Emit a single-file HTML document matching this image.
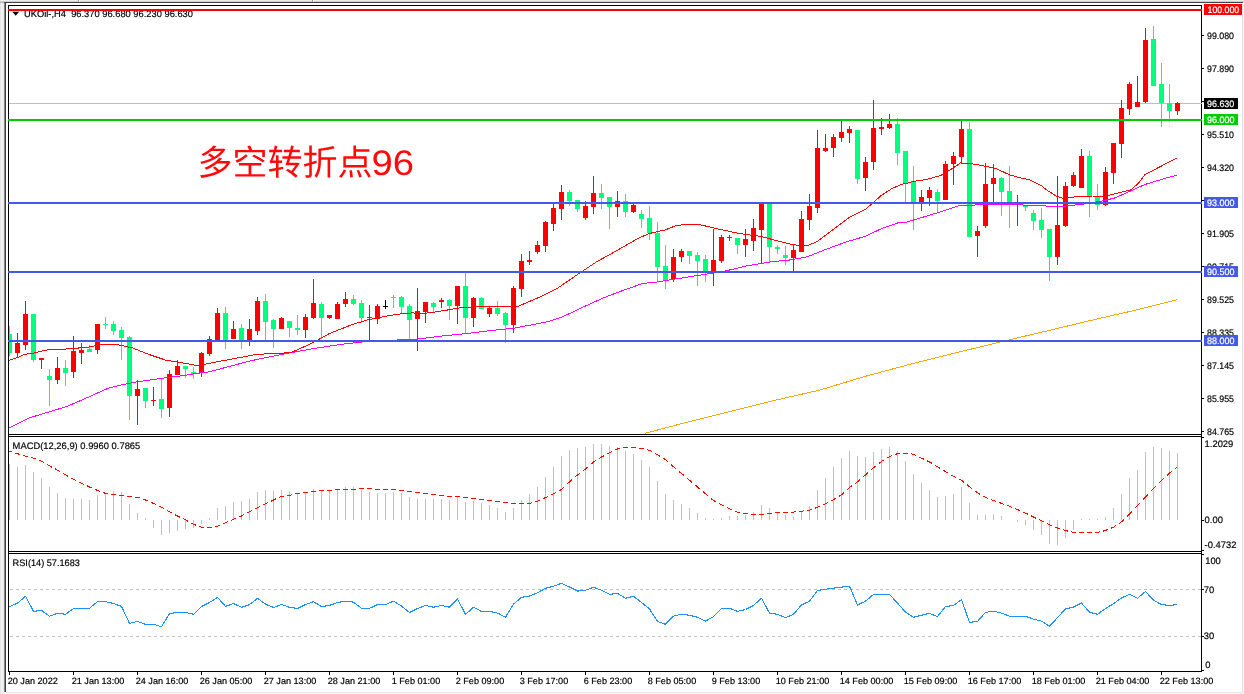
<!DOCTYPE html>
<html><head><meta charset="utf-8"><title>UKOil H4</title>
<style>html,body{margin:0;padding:0;background:#f7f7f7;}body{width:1244px;height:694px;overflow:hidden;position:relative;font-family:"Liberation Sans", "Noto Sans CJK SC", sans-serif;}</style>
</head><body>
<svg width="1244" height="694" viewBox="0 0 1244 694" shape-rendering="crispEdges" style="position:absolute;left:0;top:0;will-change:transform;font-family:'Liberation Sans', 'Noto Sans CJK SC', sans-serif">
<rect x="0" y="0" width="1244" height="694" fill="#f7f7f7"/>
<rect x="0" y="0" width="1244" height="1" fill="#ececec"/>
<rect x="0" y="1" width="1244" height="1" fill="#d0d0d0"/>
<rect x="0" y="2" width="1" height="692" fill="#e2e2e2"/>
<rect x="1" y="3" width="1" height="691" fill="#f8f8f8"/>
<rect x="2" y="3" width="2" height="691" fill="#ebebeb"/>
<rect x="0" y="2" width="4" height="1" fill="#b4b4b4"/>
<rect x="4" y="2" width="1239" height="1" fill="#454545"/>
<rect x="4" y="3" width="1" height="689" fill="#8a8a8a"/>
<rect x="5" y="3" width="1" height="689" fill="#3e3e3e"/>
<rect x="6" y="3" width="1236" height="689" fill="#ffffff"/>
<rect x="1242" y="3" width="1" height="690" fill="#e4e4e4"/>
<rect x="6" y="692" width="1237" height="1" fill="#e4e4e4"/>
<rect x="78" y="0" width="1" height="2" fill="#9a9a9a"/>
<rect x="79" y="0" width="1" height="2" fill="#ffffff"/>
<rect x="312" y="0" width="1" height="2" fill="#9a9a9a"/>
<rect x="313" y="0" width="1" height="2" fill="#ffffff"/>
<defs><clipPath id="cm"><rect x="9" y="6" width="1192" height="428"/></clipPath><clipPath id="cm2"><rect x="9" y="6" width="1193" height="428"/></clipPath><clipPath id="cd"><rect x="9" y="437" width="1192" height="114"/></clipPath><clipPath id="cr"><rect x="9" y="554" width="1192" height="117"/></clipPath></defs>
<g clip-path="url(#cm)">
<rect x="9" y="103" width="1193" height="1" fill="#c0c0c0"/>
<rect x="9" y="326" width="1" height="30" fill="#00ff7f"/>
<rect x="7" y="334" width="5" height="19" fill="#00ff7f"/>
<rect x="17" y="333" width="1" height="24" fill="#ff0000"/>
<rect x="15" y="343" width="5" height="10" fill="#ff0000"/>
<rect x="25" y="301" width="1" height="49" fill="#ff0000"/>
<rect x="23" y="314" width="5" height="31" fill="#ff0000"/>
<rect x="33" y="314" width="1" height="48" fill="#00ff7f"/>
<rect x="31" y="314" width="5" height="46" fill="#00ff7f"/>
<rect x="41" y="358" width="1" height="11" fill="#ff0000"/>
<rect x="39" y="358" width="5" height="2" fill="#ff0000"/>
<rect x="49" y="369" width="1" height="37" fill="#00ff7f"/>
<rect x="47" y="376" width="5" height="4" fill="#00ff7f"/>
<rect x="57" y="357" width="1" height="27" fill="#ff0000"/>
<rect x="55" y="368" width="5" height="12" fill="#ff0000"/>
<rect x="65" y="360" width="1" height="26" fill="#00ff7f"/>
<rect x="63" y="368" width="5" height="5" fill="#00ff7f"/>
<rect x="73" y="336" width="1" height="42" fill="#ff0000"/>
<rect x="71" y="351" width="5" height="21" fill="#ff0000"/>
<rect x="81" y="343" width="1" height="21" fill="#ff0000"/>
<rect x="79" y="350" width="5" height="3" fill="#ff0000"/>
<rect x="89" y="345" width="1" height="7" fill="#00ff7f"/>
<rect x="87" y="349" width="5" height="3" fill="#00ff7f"/>
<rect x="97" y="324" width="1" height="30" fill="#ff0000"/>
<rect x="95" y="324" width="5" height="26" fill="#ff0000"/>
<rect x="105" y="317" width="1" height="12" fill="#00ff7f"/>
<rect x="103" y="324" width="5" height="1" fill="#00ff7f"/>
<rect x="113" y="321" width="1" height="14" fill="#00ff7f"/>
<rect x="111" y="324" width="5" height="7" fill="#00ff7f"/>
<rect x="121" y="327" width="1" height="33" fill="#00ff7f"/>
<rect x="119" y="330" width="5" height="8" fill="#00ff7f"/>
<rect x="129" y="336" width="1" height="84" fill="#00ff7f"/>
<rect x="127" y="337" width="5" height="59" fill="#00ff7f"/>
<rect x="137" y="380" width="1" height="45" fill="#ff0000"/>
<rect x="135" y="389" width="5" height="7" fill="#ff0000"/>
<rect x="145" y="388" width="1" height="20" fill="#00ff7f"/>
<rect x="143" y="388" width="5" height="13" fill="#00ff7f"/>
<rect x="153" y="387" width="1" height="19" fill="#ff0000"/>
<rect x="151" y="400" width="5" height="1" fill="#ff0000"/>
<rect x="161" y="379" width="1" height="39" fill="#00ff7f"/>
<rect x="159" y="399" width="5" height="10" fill="#00ff7f"/>
<rect x="169" y="370" width="1" height="47" fill="#ff0000"/>
<rect x="167" y="374" width="5" height="34" fill="#ff0000"/>
<rect x="177" y="360" width="1" height="15" fill="#ff0000"/>
<rect x="175" y="366" width="5" height="9" fill="#ff0000"/>
<rect x="185" y="366" width="1" height="12" fill="#00ff7f"/>
<rect x="183" y="366" width="5" height="3" fill="#00ff7f"/>
<rect x="193" y="367" width="1" height="12" fill="#00ff7f"/>
<rect x="191" y="372" width="5" height="2" fill="#00ff7f"/>
<rect x="201" y="352" width="1" height="25" fill="#ff0000"/>
<rect x="199" y="353" width="5" height="20" fill="#ff0000"/>
<rect x="209" y="336" width="1" height="20" fill="#ff0000"/>
<rect x="207" y="339" width="5" height="15" fill="#ff0000"/>
<rect x="217" y="308" width="1" height="33" fill="#ff0000"/>
<rect x="215" y="313" width="5" height="28" fill="#ff0000"/>
<rect x="225" y="307" width="1" height="42" fill="#00ff7f"/>
<rect x="223" y="313" width="5" height="28" fill="#00ff7f"/>
<rect x="233" y="321" width="1" height="18" fill="#ff0000"/>
<rect x="231" y="329" width="5" height="10" fill="#ff0000"/>
<rect x="241" y="324" width="1" height="25" fill="#00ff7f"/>
<rect x="239" y="328" width="5" height="13" fill="#00ff7f"/>
<rect x="249" y="319" width="1" height="27" fill="#ff0000"/>
<rect x="247" y="329" width="5" height="12" fill="#ff0000"/>
<rect x="257" y="297" width="1" height="38" fill="#ff0000"/>
<rect x="255" y="301" width="5" height="30" fill="#ff0000"/>
<rect x="265" y="294" width="1" height="46" fill="#00ff7f"/>
<rect x="263" y="301" width="5" height="21" fill="#00ff7f"/>
<rect x="273" y="319" width="1" height="29" fill="#00ff7f"/>
<rect x="271" y="320" width="5" height="9" fill="#00ff7f"/>
<rect x="281" y="317" width="1" height="12" fill="#ff0000"/>
<rect x="279" y="318" width="5" height="11" fill="#ff0000"/>
<rect x="289" y="321" width="1" height="16" fill="#00ff7f"/>
<rect x="287" y="321" width="5" height="7" fill="#00ff7f"/>
<rect x="297" y="315" width="1" height="20" fill="#00ff7f"/>
<rect x="295" y="328" width="5" height="2" fill="#00ff7f"/>
<rect x="305" y="314" width="1" height="24" fill="#ff0000"/>
<rect x="303" y="317" width="5" height="13" fill="#ff0000"/>
<rect x="313" y="279" width="1" height="40" fill="#ff0000"/>
<rect x="311" y="303" width="5" height="15" fill="#ff0000"/>
<rect x="321" y="302" width="1" height="37" fill="#00ff7f"/>
<rect x="319" y="304" width="5" height="14" fill="#00ff7f"/>
<rect x="329" y="315" width="1" height="4" fill="#ff0000"/>
<rect x="327" y="315" width="5" height="3" fill="#ff0000"/>
<rect x="337" y="302" width="1" height="17" fill="#ff0000"/>
<rect x="335" y="304" width="5" height="15" fill="#ff0000"/>
<rect x="345" y="292" width="1" height="15" fill="#ff0000"/>
<rect x="343" y="299" width="5" height="5" fill="#ff0000"/>
<rect x="353" y="295" width="1" height="10" fill="#00ff7f"/>
<rect x="351" y="299" width="5" height="5" fill="#00ff7f"/>
<rect x="361" y="300" width="1" height="23" fill="#00ff7f"/>
<rect x="359" y="303" width="5" height="15" fill="#00ff7f"/>
<rect x="369" y="305" width="1" height="36" fill="#ff0000"/>
<rect x="367" y="317" width="5" height="1" fill="#ff0000"/>
<rect x="377" y="304" width="1" height="20" fill="#ff0000"/>
<rect x="375" y="306" width="5" height="13" fill="#ff0000"/>
<rect x="385" y="300" width="1" height="9" fill="#000000"/>
<rect x="383" y="306" width="5" height="1" fill="#000000"/>
<rect x="393" y="295" width="1" height="13" fill="#00ff7f"/>
<rect x="391" y="297" width="5" height="1" fill="#00ff7f"/>
<rect x="401" y="296" width="1" height="18" fill="#00ff7f"/>
<rect x="399" y="297" width="5" height="10" fill="#00ff7f"/>
<rect x="409" y="304" width="1" height="35" fill="#00ff7f"/>
<rect x="407" y="306" width="5" height="14" fill="#00ff7f"/>
<rect x="417" y="288" width="1" height="63" fill="#ff0000"/>
<rect x="415" y="311" width="5" height="8" fill="#ff0000"/>
<rect x="425" y="302" width="1" height="21" fill="#ff0000"/>
<rect x="423" y="302" width="5" height="10" fill="#ff0000"/>
<rect x="433" y="302" width="1" height="10" fill="#00ff7f"/>
<rect x="431" y="303" width="5" height="4" fill="#00ff7f"/>
<rect x="441" y="298" width="1" height="10" fill="#ff0000"/>
<rect x="439" y="300" width="5" height="2" fill="#ff0000"/>
<rect x="449" y="299" width="1" height="21" fill="#00ff7f"/>
<rect x="447" y="300" width="5" height="6" fill="#00ff7f"/>
<rect x="457" y="286" width="1" height="38" fill="#ff0000"/>
<rect x="455" y="286" width="5" height="20" fill="#ff0000"/>
<rect x="465" y="273" width="1" height="61" fill="#00ff7f"/>
<rect x="463" y="286" width="5" height="32" fill="#00ff7f"/>
<rect x="473" y="297" width="1" height="30" fill="#ff0000"/>
<rect x="471" y="298" width="5" height="20" fill="#ff0000"/>
<rect x="481" y="297" width="1" height="12" fill="#00ff7f"/>
<rect x="479" y="298" width="5" height="11" fill="#00ff7f"/>
<rect x="489" y="307" width="1" height="10" fill="#ff0000"/>
<rect x="487" y="308" width="5" height="6" fill="#ff0000"/>
<rect x="497" y="301" width="1" height="15" fill="#00ff7f"/>
<rect x="495" y="308" width="5" height="6" fill="#00ff7f"/>
<rect x="505" y="312" width="1" height="31" fill="#00ff7f"/>
<rect x="503" y="313" width="5" height="12" fill="#00ff7f"/>
<rect x="513" y="286" width="1" height="47" fill="#ff0000"/>
<rect x="511" y="288" width="5" height="37" fill="#ff0000"/>
<rect x="521" y="254" width="1" height="43" fill="#ff0000"/>
<rect x="519" y="261" width="5" height="28" fill="#ff0000"/>
<rect x="529" y="251" width="1" height="14" fill="#ff0000"/>
<rect x="527" y="260" width="5" height="2" fill="#ff0000"/>
<rect x="537" y="241" width="1" height="13" fill="#ff0000"/>
<rect x="535" y="245" width="5" height="7" fill="#ff0000"/>
<rect x="545" y="221" width="1" height="31" fill="#ff0000"/>
<rect x="543" y="222" width="5" height="24" fill="#ff0000"/>
<rect x="553" y="204" width="1" height="27" fill="#ff0000"/>
<rect x="551" y="208" width="5" height="16" fill="#ff0000"/>
<rect x="561" y="185" width="1" height="35" fill="#ff0000"/>
<rect x="559" y="192" width="5" height="17" fill="#ff0000"/>
<rect x="569" y="190" width="1" height="16" fill="#00ff7f"/>
<rect x="567" y="192" width="5" height="9" fill="#00ff7f"/>
<rect x="577" y="200" width="1" height="12" fill="#00ff7f"/>
<rect x="575" y="200" width="5" height="9" fill="#00ff7f"/>
<rect x="585" y="201" width="1" height="19" fill="#ff0000"/>
<rect x="583" y="206" width="5" height="12" fill="#ff0000"/>
<rect x="593" y="176" width="1" height="38" fill="#ff0000"/>
<rect x="591" y="193" width="5" height="14" fill="#ff0000"/>
<rect x="601" y="184" width="1" height="25" fill="#00ff7f"/>
<rect x="599" y="193" width="5" height="5" fill="#00ff7f"/>
<rect x="609" y="197" width="1" height="32" fill="#00ff7f"/>
<rect x="607" y="197" width="5" height="10" fill="#00ff7f"/>
<rect x="617" y="191" width="1" height="26" fill="#ff0000"/>
<rect x="615" y="201" width="5" height="6" fill="#ff0000"/>
<rect x="625" y="194" width="1" height="23" fill="#00ff7f"/>
<rect x="623" y="201" width="5" height="11" fill="#00ff7f"/>
<rect x="633" y="204" width="1" height="9" fill="#ff0000"/>
<rect x="631" y="205" width="5" height="7" fill="#ff0000"/>
<rect x="641" y="210" width="1" height="18" fill="#00ff7f"/>
<rect x="639" y="214" width="5" height="5" fill="#00ff7f"/>
<rect x="649" y="206" width="1" height="34" fill="#00ff7f"/>
<rect x="647" y="218" width="5" height="15" fill="#00ff7f"/>
<rect x="657" y="222" width="1" height="60" fill="#00ff7f"/>
<rect x="655" y="233" width="5" height="34" fill="#00ff7f"/>
<rect x="665" y="245" width="1" height="44" fill="#00ff7f"/>
<rect x="663" y="266" width="5" height="14" fill="#00ff7f"/>
<rect x="673" y="249" width="1" height="33" fill="#ff0000"/>
<rect x="671" y="257" width="5" height="22" fill="#ff0000"/>
<rect x="681" y="249" width="1" height="13" fill="#ff0000"/>
<rect x="679" y="251" width="5" height="6" fill="#ff0000"/>
<rect x="689" y="251" width="1" height="13" fill="#00ff7f"/>
<rect x="687" y="251" width="5" height="5" fill="#00ff7f"/>
<rect x="697" y="252" width="1" height="34" fill="#00ff7f"/>
<rect x="695" y="255" width="5" height="6" fill="#00ff7f"/>
<rect x="705" y="255" width="1" height="27" fill="#00ff7f"/>
<rect x="703" y="259" width="5" height="13" fill="#00ff7f"/>
<rect x="713" y="229" width="1" height="57" fill="#ff0000"/>
<rect x="711" y="260" width="5" height="13" fill="#ff0000"/>
<rect x="721" y="235" width="1" height="28" fill="#ff0000"/>
<rect x="719" y="237" width="5" height="24" fill="#ff0000"/>
<rect x="729" y="235" width="1" height="6" fill="#ff0000"/>
<rect x="727" y="237" width="5" height="1" fill="#ff0000"/>
<rect x="737" y="238" width="1" height="16" fill="#00ff7f"/>
<rect x="735" y="238" width="5" height="7" fill="#00ff7f"/>
<rect x="745" y="229" width="1" height="28" fill="#ff0000"/>
<rect x="743" y="239" width="5" height="6" fill="#ff0000"/>
<rect x="753" y="219" width="1" height="32" fill="#ff0000"/>
<rect x="751" y="228" width="5" height="13" fill="#ff0000"/>
<rect x="761" y="203" width="1" height="60" fill="#ff0000"/>
<rect x="759" y="203" width="5" height="27" fill="#ff0000"/>
<rect x="769" y="203" width="1" height="59" fill="#00ff7f"/>
<rect x="767" y="203" width="5" height="44" fill="#00ff7f"/>
<rect x="777" y="245" width="1" height="9" fill="#00ff7f"/>
<rect x="775" y="247" width="5" height="2" fill="#00ff7f"/>
<rect x="785" y="246" width="1" height="19" fill="#00ff7f"/>
<rect x="783" y="255" width="5" height="3" fill="#00ff7f"/>
<rect x="793" y="245" width="1" height="26" fill="#ff0000"/>
<rect x="791" y="250" width="5" height="8" fill="#ff0000"/>
<rect x="801" y="211" width="1" height="41" fill="#ff0000"/>
<rect x="799" y="219" width="5" height="33" fill="#ff0000"/>
<rect x="809" y="194" width="1" height="36" fill="#ff0000"/>
<rect x="807" y="206" width="5" height="14" fill="#ff0000"/>
<rect x="817" y="130" width="1" height="83" fill="#ff0000"/>
<rect x="815" y="148" width="5" height="60" fill="#ff0000"/>
<rect x="825" y="134" width="1" height="18" fill="#ff0000"/>
<rect x="823" y="148" width="5" height="3" fill="#ff0000"/>
<rect x="833" y="134" width="1" height="23" fill="#ff0000"/>
<rect x="831" y="137" width="5" height="11" fill="#ff0000"/>
<rect x="841" y="121" width="1" height="21" fill="#ff0000"/>
<rect x="839" y="132" width="5" height="6" fill="#ff0000"/>
<rect x="849" y="126" width="1" height="17" fill="#ff0000"/>
<rect x="847" y="129" width="5" height="4" fill="#ff0000"/>
<rect x="857" y="130" width="1" height="54" fill="#00ff7f"/>
<rect x="855" y="130" width="5" height="49" fill="#00ff7f"/>
<rect x="865" y="157" width="1" height="34" fill="#ff0000"/>
<rect x="863" y="162" width="5" height="16" fill="#ff0000"/>
<rect x="873" y="100" width="1" height="70" fill="#ff0000"/>
<rect x="871" y="128" width="5" height="34" fill="#ff0000"/>
<rect x="881" y="118" width="1" height="17" fill="#ff0000"/>
<rect x="879" y="127" width="5" height="2" fill="#ff0000"/>
<rect x="889" y="114" width="1" height="15" fill="#ff0000"/>
<rect x="887" y="124" width="5" height="4" fill="#ff0000"/>
<rect x="897" y="118" width="1" height="47" fill="#00ff7f"/>
<rect x="895" y="124" width="5" height="29" fill="#00ff7f"/>
<rect x="905" y="151" width="1" height="51" fill="#00ff7f"/>
<rect x="903" y="151" width="5" height="32" fill="#00ff7f"/>
<rect x="913" y="166" width="1" height="64" fill="#00ff7f"/>
<rect x="911" y="182" width="5" height="21" fill="#00ff7f"/>
<rect x="921" y="190" width="1" height="21" fill="#ff0000"/>
<rect x="919" y="197" width="5" height="5" fill="#ff0000"/>
<rect x="929" y="187" width="1" height="19" fill="#ff0000"/>
<rect x="927" y="190" width="5" height="8" fill="#ff0000"/>
<rect x="937" y="189" width="1" height="23" fill="#00ff7f"/>
<rect x="935" y="192" width="5" height="9" fill="#00ff7f"/>
<rect x="945" y="161" width="1" height="39" fill="#ff0000"/>
<rect x="943" y="164" width="5" height="36" fill="#ff0000"/>
<rect x="953" y="152" width="1" height="33" fill="#ff0000"/>
<rect x="951" y="156" width="5" height="8" fill="#ff0000"/>
<rect x="961" y="121" width="1" height="43" fill="#ff0000"/>
<rect x="959" y="129" width="5" height="28" fill="#ff0000"/>
<rect x="969" y="122" width="1" height="115" fill="#00ff7f"/>
<rect x="967" y="129" width="5" height="108" fill="#00ff7f"/>
<rect x="977" y="226" width="1" height="31" fill="#ff0000"/>
<rect x="975" y="231" width="5" height="5" fill="#ff0000"/>
<rect x="985" y="163" width="1" height="65" fill="#ff0000"/>
<rect x="983" y="184" width="5" height="42" fill="#ff0000"/>
<rect x="993" y="164" width="1" height="38" fill="#ff0000"/>
<rect x="991" y="178" width="5" height="6" fill="#ff0000"/>
<rect x="1001" y="177" width="1" height="39" fill="#00ff7f"/>
<rect x="999" y="178" width="5" height="14" fill="#00ff7f"/>
<rect x="1009" y="166" width="1" height="62" fill="#00ff7f"/>
<rect x="1007" y="191" width="5" height="14" fill="#00ff7f"/>
<rect x="1017" y="195" width="1" height="31" fill="#ff0000"/>
<rect x="1015" y="204" width="5" height="1" fill="#ff0000"/>
<rect x="1025" y="205" width="1" height="6" fill="#00ff7f"/>
<rect x="1023" y="206" width="5" height="1" fill="#00ff7f"/>
<rect x="1033" y="210" width="1" height="20" fill="#00ff7f"/>
<rect x="1031" y="213" width="5" height="8" fill="#00ff7f"/>
<rect x="1041" y="208" width="1" height="30" fill="#00ff7f"/>
<rect x="1039" y="220" width="5" height="10" fill="#00ff7f"/>
<rect x="1049" y="229" width="1" height="52" fill="#00ff7f"/>
<rect x="1047" y="229" width="5" height="28" fill="#00ff7f"/>
<rect x="1057" y="176" width="1" height="89" fill="#ff0000"/>
<rect x="1055" y="225" width="5" height="32" fill="#ff0000"/>
<rect x="1065" y="182" width="1" height="45" fill="#ff0000"/>
<rect x="1063" y="186" width="5" height="40" fill="#ff0000"/>
<rect x="1073" y="172" width="1" height="15" fill="#ff0000"/>
<rect x="1071" y="175" width="5" height="11" fill="#ff0000"/>
<rect x="1081" y="149" width="1" height="39" fill="#ff0000"/>
<rect x="1079" y="156" width="5" height="32" fill="#ff0000"/>
<rect x="1089" y="151" width="1" height="66" fill="#00ff7f"/>
<rect x="1087" y="156" width="5" height="41" fill="#00ff7f"/>
<rect x="1097" y="184" width="1" height="26" fill="#00ff7f"/>
<rect x="1095" y="197" width="5" height="8" fill="#00ff7f"/>
<rect x="1105" y="167" width="1" height="39" fill="#ff0000"/>
<rect x="1103" y="172" width="5" height="33" fill="#ff0000"/>
<rect x="1113" y="143" width="1" height="41" fill="#ff0000"/>
<rect x="1111" y="143" width="5" height="30" fill="#ff0000"/>
<rect x="1121" y="100" width="1" height="58" fill="#ff0000"/>
<rect x="1119" y="108" width="5" height="36" fill="#ff0000"/>
<rect x="1129" y="82" width="1" height="33" fill="#ff0000"/>
<rect x="1127" y="84" width="5" height="25" fill="#ff0000"/>
<rect x="1137" y="76" width="1" height="31" fill="#ff0000"/>
<rect x="1135" y="102" width="5" height="5" fill="#ff0000"/>
<rect x="1145" y="28" width="1" height="75" fill="#ff0000"/>
<rect x="1143" y="40" width="5" height="62" fill="#ff0000"/>
<rect x="1153" y="26" width="1" height="60" fill="#00ff7f"/>
<rect x="1151" y="39" width="5" height="47" fill="#00ff7f"/>
<rect x="1161" y="63" width="1" height="64" fill="#00ff7f"/>
<rect x="1159" y="84" width="5" height="19" fill="#00ff7f"/>
<rect x="1169" y="84" width="1" height="38" fill="#00ff7f"/>
<rect x="1167" y="103" width="5" height="8" fill="#00ff7f"/>
<rect x="1177" y="102" width="1" height="13" fill="#ff0000"/>
<rect x="1175" y="103" width="5" height="8" fill="#ff0000"/>
<polyline points="644.5,433.4 685.0,422.8 730.0,411.6 775.0,400.3 820.0,390.0 865.0,376.4 910.0,364.3 955.0,353.0 1007.0,340.4 1045.0,331.4 1090.0,320.6 1135.0,310.3 1177.0,299.8" fill="none" stroke="#ffa500" stroke-width="1" shape-rendering="crispEdges" />
<polyline points="9.0,428.2 28.2,418.2 48.4,412.1 66.5,406.6 88.7,397.0 108.9,387.9 123.0,384.5 137.2,381.8 161.4,378.4 181.6,375.8 201.7,372.7 206.1,372.5 220.2,368.9 250.5,360.8 290.8,352.7 313.0,348.7 341.3,344.3 365.5,341.6 393.7,340.0 397.0,340.0 418.2,339.0 442.5,336.0 466.7,333.5 492.9,330.3 513.1,328.3 531.3,324.9 547.4,321.8 561.5,317.2 573.6,311.7 578.4,309.3 602.6,298.2 622.8,290.5 643.0,283.4 657.1,282.0 675.3,279.0 697.5,275.5 713.6,272.9 727.1,270.6 746.2,266.0 770.5,261.9 790.6,259.9 806.8,256.9 824.9,249.8 845.1,242.3 865.3,236.3 881.5,228.6 897.6,223.0 906.1,222.2 920.2,218.0 940.4,211.9 960.5,205.3 980.7,204.9 1021.1,204.9 1041.3,205.9 1046.0,206.0 1060.1,206.6 1084.4,204.0 1102.5,201.0 1114.6,198.0 1130.8,190.9 1144.9,184.5 1159.0,180.2 1169.1,177.2 1176.8,175.4" fill="none" stroke="#ff00ff" stroke-width="1" shape-rendering="crispEdges" />
<polyline points="9.0,360.4 18.1,357.4 23.9,354.4 34.0,353.0 44.9,350.3 54.4,349.1 64.1,349.1 68.5,348.9 88.7,347.1 102.9,344.1 117.0,344.5 133.1,348.1 149.3,354.6 165.4,360.0 181.6,362.7 195.7,365.3 203.8,364.7 204.0,364.5 220.2,361.2 256.5,354.4 290.8,352.7 313.0,342.7 329.2,333.6 353.4,324.1 369.5,319.4 393.7,314.8 398.1,314.2 412.0,312.9 422.1,313.6 432.0,312.5 451.9,309.3 462.6,307.3 482.8,306.7 501.0,306.7 518.1,306.3 529.2,301.6 539.3,297.2 542.1,296.1 556.2,289.1 578.4,273.9 596.5,261.8 616.7,250.7 636.9,239.0 649.0,233.6 665.2,229.9 675.3,225.9 687.4,224.1 697.5,224.1 707.5,226.5 717.6,228.9 724.0,230.2 740.2,233.7 760.4,236.3 780.5,241.7 792.7,244.8 806.8,245.8 816.9,241.7 829.0,232.7 849.2,217.5 865.3,209.4 873.4,202.4 881.5,195.3 891.5,188.9 901.6,184.2 906.1,183.7 912.1,181.6 926.2,179.6 940.4,175.6 952.5,168.5 960.5,162.9 970.6,163.5 984.8,166.1 996.9,168.9 1009.0,174.6 1019.1,177.6 1029.2,179.6 1041.3,185.7 1046.0,189.5 1056.1,196.0 1064.2,198.6 1080.3,196.0 1092.4,196.0 1104.5,196.4 1114.6,193.9 1130.8,189.9 1138.9,182.8 1144.9,174.8 1157.0,168.3 1167.1,163.1 1176.8,158.2" fill="none" stroke="#ff0000" stroke-width="1" shape-rendering="crispEdges" />
</g>
<g clip-path="url(#cd)">
<rect x="9" y="464" width="1" height="56" fill="#c0c0c0"/>
<rect x="17" y="467" width="1" height="53" fill="#c0c0c0"/>
<rect x="25" y="465" width="1" height="55" fill="#c0c0c0"/>
<rect x="33" y="472" width="1" height="48" fill="#c0c0c0"/>
<rect x="41" y="478" width="1" height="42" fill="#c0c0c0"/>
<rect x="49" y="487" width="1" height="33" fill="#c0c0c0"/>
<rect x="57" y="493" width="1" height="27" fill="#c0c0c0"/>
<rect x="65" y="498" width="1" height="22" fill="#c0c0c0"/>
<rect x="73" y="499" width="1" height="21" fill="#c0c0c0"/>
<rect x="81" y="499" width="1" height="21" fill="#c0c0c0"/>
<rect x="89" y="500" width="1" height="20" fill="#c0c0c0"/>
<rect x="97" y="495" width="1" height="25" fill="#c0c0c0"/>
<rect x="105" y="493" width="1" height="27" fill="#c0c0c0"/>
<rect x="113" y="491" width="1" height="29" fill="#c0c0c0"/>
<rect x="121" y="492" width="1" height="28" fill="#c0c0c0"/>
<rect x="129" y="504" width="1" height="16" fill="#c0c0c0"/>
<rect x="137" y="513" width="1" height="7" fill="#c0c0c0"/>
<rect x="145" y="518" width="1" height="2" fill="#c0c0c0"/>
<rect x="153" y="520" width="1" height="8" fill="#c0c0c0"/>
<rect x="161" y="520" width="1" height="15" fill="#c0c0c0"/>
<rect x="169" y="520" width="1" height="13" fill="#c0c0c0"/>
<rect x="177" y="520" width="1" height="11" fill="#c0c0c0"/>
<rect x="185" y="520" width="1" height="9" fill="#c0c0c0"/>
<rect x="193" y="520" width="1" height="8" fill="#c0c0c0"/>
<rect x="201" y="520" width="1" height="4" fill="#c0c0c0"/>
<rect x="209" y="518" width="1" height="2" fill="#c0c0c0"/>
<rect x="217" y="508" width="1" height="12" fill="#c0c0c0"/>
<rect x="225" y="506" width="1" height="14" fill="#c0c0c0"/>
<rect x="233" y="502" width="1" height="18" fill="#c0c0c0"/>
<rect x="241" y="501" width="1" height="19" fill="#c0c0c0"/>
<rect x="249" y="499" width="1" height="21" fill="#c0c0c0"/>
<rect x="257" y="492" width="1" height="28" fill="#c0c0c0"/>
<rect x="265" y="490" width="1" height="30" fill="#c0c0c0"/>
<rect x="273" y="491" width="1" height="29" fill="#c0c0c0"/>
<rect x="281" y="490" width="1" height="30" fill="#c0c0c0"/>
<rect x="289" y="491" width="1" height="29" fill="#c0c0c0"/>
<rect x="297" y="494" width="1" height="26" fill="#c0c0c0"/>
<rect x="305" y="493" width="1" height="27" fill="#c0c0c0"/>
<rect x="313" y="489" width="1" height="31" fill="#c0c0c0"/>
<rect x="321" y="491" width="1" height="29" fill="#c0c0c0"/>
<rect x="329" y="491" width="1" height="29" fill="#c0c0c0"/>
<rect x="337" y="490" width="1" height="30" fill="#c0c0c0"/>
<rect x="345" y="487" width="1" height="33" fill="#c0c0c0"/>
<rect x="353" y="487" width="1" height="33" fill="#c0c0c0"/>
<rect x="361" y="490" width="1" height="30" fill="#c0c0c0"/>
<rect x="369" y="492" width="1" height="28" fill="#c0c0c0"/>
<rect x="377" y="493" width="1" height="27" fill="#c0c0c0"/>
<rect x="385" y="493" width="1" height="27" fill="#c0c0c0"/>
<rect x="393" y="492" width="1" height="28" fill="#c0c0c0"/>
<rect x="401" y="493" width="1" height="27" fill="#c0c0c0"/>
<rect x="409" y="497" width="1" height="23" fill="#c0c0c0"/>
<rect x="417" y="499" width="1" height="21" fill="#c0c0c0"/>
<rect x="425" y="499" width="1" height="21" fill="#c0c0c0"/>
<rect x="433" y="499" width="1" height="21" fill="#c0c0c0"/>
<rect x="441" y="499" width="1" height="21" fill="#c0c0c0"/>
<rect x="449" y="500" width="1" height="20" fill="#c0c0c0"/>
<rect x="457" y="497" width="1" height="23" fill="#c0c0c0"/>
<rect x="465" y="502" width="1" height="18" fill="#c0c0c0"/>
<rect x="473" y="501" width="1" height="19" fill="#c0c0c0"/>
<rect x="481" y="503" width="1" height="17" fill="#c0c0c0"/>
<rect x="489" y="505" width="1" height="15" fill="#c0c0c0"/>
<rect x="497" y="508" width="1" height="12" fill="#c0c0c0"/>
<rect x="505" y="512" width="1" height="8" fill="#c0c0c0"/>
<rect x="513" y="508" width="1" height="12" fill="#c0c0c0"/>
<rect x="521" y="500" width="1" height="20" fill="#c0c0c0"/>
<rect x="529" y="494" width="1" height="26" fill="#c0c0c0"/>
<rect x="537" y="487" width="1" height="33" fill="#c0c0c0"/>
<rect x="545" y="477" width="1" height="43" fill="#c0c0c0"/>
<rect x="553" y="467" width="1" height="53" fill="#c0c0c0"/>
<rect x="561" y="456" width="1" height="64" fill="#c0c0c0"/>
<rect x="569" y="450" width="1" height="70" fill="#c0c0c0"/>
<rect x="577" y="448" width="1" height="72" fill="#c0c0c0"/>
<rect x="585" y="447" width="1" height="73" fill="#c0c0c0"/>
<rect x="593" y="444" width="1" height="76" fill="#c0c0c0"/>
<rect x="601" y="444" width="1" height="76" fill="#c0c0c0"/>
<rect x="609" y="446" width="1" height="74" fill="#c0c0c0"/>
<rect x="617" y="447" width="1" height="73" fill="#c0c0c0"/>
<rect x="625" y="451" width="1" height="69" fill="#c0c0c0"/>
<rect x="633" y="454" width="1" height="66" fill="#c0c0c0"/>
<rect x="641" y="460" width="1" height="60" fill="#c0c0c0"/>
<rect x="649" y="467" width="1" height="53" fill="#c0c0c0"/>
<rect x="657" y="481" width="1" height="39" fill="#c0c0c0"/>
<rect x="665" y="494" width="1" height="26" fill="#c0c0c0"/>
<rect x="673" y="500" width="1" height="20" fill="#c0c0c0"/>
<rect x="681" y="504" width="1" height="16" fill="#c0c0c0"/>
<rect x="689" y="508" width="1" height="12" fill="#c0c0c0"/>
<rect x="697" y="513" width="1" height="7" fill="#c0c0c0"/>
<rect x="705" y="518" width="1" height="2" fill="#c0c0c0"/>
<rect x="713" y="519" width="1" height="1" fill="#c0c0c0"/>
<rect x="721" y="518" width="1" height="2" fill="#c0c0c0"/>
<rect x="729" y="516" width="1" height="4" fill="#c0c0c0"/>
<rect x="737" y="516" width="1" height="4" fill="#c0c0c0"/>
<rect x="745" y="515" width="1" height="5" fill="#c0c0c0"/>
<rect x="753" y="512" width="1" height="8" fill="#c0c0c0"/>
<rect x="761" y="505" width="1" height="15" fill="#c0c0c0"/>
<rect x="769" y="508" width="1" height="12" fill="#c0c0c0"/>
<rect x="777" y="512" width="1" height="8" fill="#c0c0c0"/>
<rect x="785" y="515" width="1" height="5" fill="#c0c0c0"/>
<rect x="793" y="517" width="1" height="3" fill="#c0c0c0"/>
<rect x="801" y="512" width="1" height="8" fill="#c0c0c0"/>
<rect x="809" y="506" width="1" height="14" fill="#c0c0c0"/>
<rect x="817" y="490" width="1" height="30" fill="#c0c0c0"/>
<rect x="825" y="478" width="1" height="42" fill="#c0c0c0"/>
<rect x="833" y="467" width="1" height="53" fill="#c0c0c0"/>
<rect x="841" y="458" width="1" height="62" fill="#c0c0c0"/>
<rect x="849" y="451" width="1" height="69" fill="#c0c0c0"/>
<rect x="857" y="456" width="1" height="64" fill="#c0c0c0"/>
<rect x="865" y="457" width="1" height="63" fill="#c0c0c0"/>
<rect x="873" y="452" width="1" height="68" fill="#c0c0c0"/>
<rect x="881" y="449" width="1" height="71" fill="#c0c0c0"/>
<rect x="889" y="447" width="1" height="73" fill="#c0c0c0"/>
<rect x="897" y="451" width="1" height="69" fill="#c0c0c0"/>
<rect x="905" y="461" width="1" height="59" fill="#c0c0c0"/>
<rect x="913" y="474" width="1" height="46" fill="#c0c0c0"/>
<rect x="921" y="483" width="1" height="37" fill="#c0c0c0"/>
<rect x="929" y="490" width="1" height="30" fill="#c0c0c0"/>
<rect x="937" y="497" width="1" height="23" fill="#c0c0c0"/>
<rect x="945" y="496" width="1" height="24" fill="#c0c0c0"/>
<rect x="953" y="494" width="1" height="26" fill="#c0c0c0"/>
<rect x="961" y="487" width="1" height="33" fill="#c0c0c0"/>
<rect x="969" y="503" width="1" height="17" fill="#c0c0c0"/>
<rect x="977" y="515" width="1" height="5" fill="#c0c0c0"/>
<rect x="985" y="515" width="1" height="5" fill="#c0c0c0"/>
<rect x="993" y="514" width="1" height="6" fill="#c0c0c0"/>
<rect x="1001" y="516" width="1" height="4" fill="#c0c0c0"/>
<rect x="1017" y="520" width="1" height="2" fill="#c0c0c0"/>
<rect x="1025" y="520" width="1" height="5" fill="#c0c0c0"/>
<rect x="1033" y="520" width="1" height="10" fill="#c0c0c0"/>
<rect x="1041" y="520" width="1" height="15" fill="#c0c0c0"/>
<rect x="1049" y="520" width="1" height="24" fill="#c0c0c0"/>
<rect x="1057" y="520" width="1" height="25" fill="#c0c0c0"/>
<rect x="1065" y="520" width="1" height="18" fill="#c0c0c0"/>
<rect x="1073" y="520" width="1" height="10" fill="#c0c0c0"/>
<rect x="1081" y="519" width="1" height="1" fill="#c0c0c0"/>
<rect x="1089" y="519" width="1" height="1" fill="#c0c0c0"/>
<rect x="1097" y="519" width="1" height="1" fill="#c0c0c0"/>
<rect x="1105" y="517" width="1" height="3" fill="#c0c0c0"/>
<rect x="1113" y="508" width="1" height="12" fill="#c0c0c0"/>
<rect x="1121" y="494" width="1" height="26" fill="#c0c0c0"/>
<rect x="1129" y="478" width="1" height="42" fill="#c0c0c0"/>
<rect x="1137" y="470" width="1" height="50" fill="#c0c0c0"/>
<rect x="1145" y="452" width="1" height="68" fill="#c0c0c0"/>
<rect x="1153" y="447" width="1" height="73" fill="#c0c0c0"/>
<rect x="1161" y="448" width="1" height="72" fill="#c0c0c0"/>
<rect x="1169" y="451" width="1" height="69" fill="#c0c0c0"/>
<rect x="1177" y="453" width="1" height="67" fill="#c0c0c0"/>
<polyline points="7.0,450.6 9.5,451.3 12.0,452.1" fill="none" stroke="#ff0000" stroke-width="1.05" shape-rendering="crispEdges" />
<polyline points="15.0,453.0 17.5,453.7 20.0,454.5" fill="none" stroke="#ff0000" stroke-width="1.05" shape-rendering="crispEdges" />
<polyline points="23.0,455.4 25.5,456.1 28.0,456.7" fill="none" stroke="#ff0000" stroke-width="1.05" shape-rendering="crispEdges" />
<polyline points="31.0,457.5 33.5,458.1 36.0,459.1" fill="none" stroke="#ff0000" stroke-width="1.05" shape-rendering="crispEdges" />
<polyline points="39.0,460.3 41.5,461.3 44.0,462.7" fill="none" stroke="#ff0000" stroke-width="1.05" shape-rendering="crispEdges" />
<polyline points="47.0,464.4 49.5,465.8 52.0,467.2" fill="none" stroke="#ff0000" stroke-width="1.05" shape-rendering="crispEdges" />
<polyline points="55.0,468.8 57.5,470.2 60.0,471.7" fill="none" stroke="#ff0000" stroke-width="1.05" shape-rendering="crispEdges" />
<polyline points="63.0,473.4 65.5,474.9 68.0,476.3" fill="none" stroke="#ff0000" stroke-width="1.05" shape-rendering="crispEdges" />
<polyline points="71.0,477.9 73.5,479.3 76.0,480.5" fill="none" stroke="#ff0000" stroke-width="1.05" shape-rendering="crispEdges" />
<polyline points="79.0,482.0 81.5,483.2 84.0,484.4" fill="none" stroke="#ff0000" stroke-width="1.05" shape-rendering="crispEdges" />
<polyline points="87.0,485.8 89.5,487.0 92.0,488.1" fill="none" stroke="#ff0000" stroke-width="1.05" shape-rendering="crispEdges" />
<polyline points="95.0,489.4 97.5,490.5 100.0,491.4" fill="none" stroke="#ff0000" stroke-width="1.05" shape-rendering="crispEdges" />
<polyline points="103.0,492.5 105.5,493.4 108.0,493.7" fill="none" stroke="#ff0000" stroke-width="1.05" shape-rendering="crispEdges" />
<polyline points="111.0,494.1 113.5,494.4 116.0,494.7" fill="none" stroke="#ff0000" stroke-width="1.05" shape-rendering="crispEdges" />
<polyline points="119.0,495.0 121.5,495.3 124.0,495.6" fill="none" stroke="#ff0000" stroke-width="1.05" shape-rendering="crispEdges" />
<polyline points="127.0,496.0 129.5,496.3 132.0,496.6" fill="none" stroke="#ff0000" stroke-width="1.05" shape-rendering="crispEdges" />
<polyline points="135.0,497.0 137.5,497.3 140.0,498.1" fill="none" stroke="#ff0000" stroke-width="1.05" shape-rendering="crispEdges" />
<polyline points="143.0,499.1 145.5,500.0 148.0,501.1" fill="none" stroke="#ff0000" stroke-width="1.05" shape-rendering="crispEdges" />
<polyline points="151.0,502.4 153.5,503.4 156.0,504.6" fill="none" stroke="#ff0000" stroke-width="1.05" shape-rendering="crispEdges" />
<polyline points="159.0,506.1 161.5,507.3 164.0,508.7" fill="none" stroke="#ff0000" stroke-width="1.05" shape-rendering="crispEdges" />
<polyline points="167.0,510.4 169.5,511.7 172.0,513.1" fill="none" stroke="#ff0000" stroke-width="1.05" shape-rendering="crispEdges" />
<polyline points="175.0,514.7 177.5,516.0 180.0,517.2" fill="none" stroke="#ff0000" stroke-width="1.05" shape-rendering="crispEdges" />
<polyline points="183.0,518.6 185.5,519.9 188.0,521.2" fill="none" stroke="#ff0000" stroke-width="1.05" shape-rendering="crispEdges" />
<polyline points="191.0,522.9 193.5,524.3 196.0,525.2" fill="none" stroke="#ff0000" stroke-width="1.05" shape-rendering="crispEdges" />
<polyline points="199.0,526.3 201.5,527.2 204.0,527.3" fill="none" stroke="#ff0000" stroke-width="1.05" shape-rendering="crispEdges" />
<polyline points="207.0,527.5 209.5,527.6 212.0,527.2" fill="none" stroke="#ff0000" stroke-width="1.05" shape-rendering="crispEdges" />
<polyline points="215.0,526.6 217.5,526.2 220.0,525.1" fill="none" stroke="#ff0000" stroke-width="1.05" shape-rendering="crispEdges" />
<polyline points="223.0,523.8 225.5,522.8 228.0,521.7" fill="none" stroke="#ff0000" stroke-width="1.05" shape-rendering="crispEdges" />
<polyline points="231.0,520.4 233.5,519.3 236.0,518.2" fill="none" stroke="#ff0000" stroke-width="1.05" shape-rendering="crispEdges" />
<polyline points="239.0,517.0 241.5,516.0 244.0,514.6" fill="none" stroke="#ff0000" stroke-width="1.05" shape-rendering="crispEdges" />
<polyline points="247.0,512.9 249.5,511.6 252.0,510.4" fill="none" stroke="#ff0000" stroke-width="1.05" shape-rendering="crispEdges" />
<polyline points="255.0,509.0 257.5,507.9 260.0,506.6" fill="none" stroke="#ff0000" stroke-width="1.05" shape-rendering="crispEdges" />
<polyline points="263.0,505.1 265.5,503.8 268.0,502.6" fill="none" stroke="#ff0000" stroke-width="1.05" shape-rendering="crispEdges" />
<polyline points="271.0,501.2 273.5,500.0 276.0,498.8" fill="none" stroke="#ff0000" stroke-width="1.05" shape-rendering="crispEdges" />
<polyline points="279.0,497.4 281.5,496.3 284.0,496.0" fill="none" stroke="#ff0000" stroke-width="1.05" shape-rendering="crispEdges" />
<polyline points="287.0,495.6 289.5,495.3 292.0,494.7" fill="none" stroke="#ff0000" stroke-width="1.05" shape-rendering="crispEdges" />
<polyline points="295.0,494.0 297.5,493.4 300.0,493.1" fill="none" stroke="#ff0000" stroke-width="1.05" shape-rendering="crispEdges" />
<polyline points="303.0,492.7 305.5,492.4 308.0,492.1" fill="none" stroke="#ff0000" stroke-width="1.05" shape-rendering="crispEdges" />
<polyline points="311.0,491.6 313.5,491.3 316.0,491.0" fill="none" stroke="#ff0000" stroke-width="1.05" shape-rendering="crispEdges" />
<polyline points="319.0,490.7 321.5,490.5 324.0,490.4" fill="none" stroke="#ff0000" stroke-width="1.05" shape-rendering="crispEdges" />
<polyline points="327.0,490.4 329.5,490.3 332.0,490.1" fill="none" stroke="#ff0000" stroke-width="1.05" shape-rendering="crispEdges" />
<polyline points="335.0,489.8 337.5,489.5 340.0,489.5" fill="none" stroke="#ff0000" stroke-width="1.05" shape-rendering="crispEdges" />
<polyline points="343.0,489.4 345.5,489.3 348.0,489.3" fill="none" stroke="#ff0000" stroke-width="1.05" shape-rendering="crispEdges" />
<polyline points="351.0,489.3 353.5,489.3 356.0,489.1" fill="none" stroke="#ff0000" stroke-width="1.05" shape-rendering="crispEdges" />
<polyline points="359.0,488.8 361.5,488.6 364.0,488.6" fill="none" stroke="#ff0000" stroke-width="1.05" shape-rendering="crispEdges" />
<polyline points="367.0,488.6 369.5,488.6 372.0,488.8" fill="none" stroke="#ff0000" stroke-width="1.05" shape-rendering="crispEdges" />
<polyline points="375.0,489.1 377.5,489.3 380.0,489.4" fill="none" stroke="#ff0000" stroke-width="1.05" shape-rendering="crispEdges" />
<polyline points="383.0,489.5 385.5,489.5 388.0,489.5" fill="none" stroke="#ff0000" stroke-width="1.05" shape-rendering="crispEdges" />
<polyline points="391.0,489.5 393.5,489.5 396.0,489.8" fill="none" stroke="#ff0000" stroke-width="1.05" shape-rendering="crispEdges" />
<polyline points="399.0,490.1 401.5,490.3 404.0,490.7" fill="none" stroke="#ff0000" stroke-width="1.05" shape-rendering="crispEdges" />
<polyline points="407.0,491.1 409.5,491.5 412.0,491.8" fill="none" stroke="#ff0000" stroke-width="1.05" shape-rendering="crispEdges" />
<polyline points="415.0,492.1 417.5,492.4 420.0,492.7" fill="none" stroke="#ff0000" stroke-width="1.05" shape-rendering="crispEdges" />
<polyline points="423.0,493.1 425.5,493.4 428.0,493.7" fill="none" stroke="#ff0000" stroke-width="1.05" shape-rendering="crispEdges" />
<polyline points="431.0,494.1 433.5,494.4 436.0,494.7" fill="none" stroke="#ff0000" stroke-width="1.05" shape-rendering="crispEdges" />
<polyline points="439.0,495.0 441.5,495.3 444.0,495.6" fill="none" stroke="#ff0000" stroke-width="1.05" shape-rendering="crispEdges" />
<polyline points="447.0,496.0 449.5,496.3 452.0,496.4" fill="none" stroke="#ff0000" stroke-width="1.05" shape-rendering="crispEdges" />
<polyline points="455.0,496.6 457.5,496.7 460.0,497.0" fill="none" stroke="#ff0000" stroke-width="1.05" shape-rendering="crispEdges" />
<polyline points="463.0,497.3 465.5,497.6 468.0,498.0" fill="none" stroke="#ff0000" stroke-width="1.05" shape-rendering="crispEdges" />
<polyline points="471.0,498.3 473.5,498.6 476.0,498.9" fill="none" stroke="#ff0000" stroke-width="1.05" shape-rendering="crispEdges" />
<polyline points="479.0,499.3 481.5,499.6 484.0,499.9" fill="none" stroke="#ff0000" stroke-width="1.05" shape-rendering="crispEdges" />
<polyline points="487.0,500.2 489.5,500.5 492.0,500.8" fill="none" stroke="#ff0000" stroke-width="1.05" shape-rendering="crispEdges" />
<polyline points="495.0,501.2 497.5,501.5 500.0,501.8" fill="none" stroke="#ff0000" stroke-width="1.05" shape-rendering="crispEdges" />
<polyline points="503.0,502.2 505.5,502.5 508.0,502.8" fill="none" stroke="#ff0000" stroke-width="1.05" shape-rendering="crispEdges" />
<polyline points="511.0,503.1 513.5,503.4 516.0,503.4" fill="none" stroke="#ff0000" stroke-width="1.05" shape-rendering="crispEdges" />
<polyline points="519.0,503.4 521.5,503.4 524.0,503.4" fill="none" stroke="#ff0000" stroke-width="1.05" shape-rendering="crispEdges" />
<polyline points="527.0,503.4 529.5,503.4 532.0,502.7" fill="none" stroke="#ff0000" stroke-width="1.05" shape-rendering="crispEdges" />
<polyline points="535.0,501.8 537.5,501.1 540.0,500.0" fill="none" stroke="#ff0000" stroke-width="1.05" shape-rendering="crispEdges" />
<polyline points="543.0,498.7 545.5,497.6 548.0,496.4" fill="none" stroke="#ff0000" stroke-width="1.05" shape-rendering="crispEdges" />
<polyline points="551.0,495.0 553.5,493.8 556.0,492.5" fill="none" stroke="#ff0000" stroke-width="1.05" shape-rendering="crispEdges" />
<polyline points="559.0,490.9 561.5,489.5 564.0,487.1" fill="none" stroke="#ff0000" stroke-width="1.05" shape-rendering="crispEdges" />
<polyline points="567.0,484.2 569.5,481.8 572.0,479.6" fill="none" stroke="#ff0000" stroke-width="1.05" shape-rendering="crispEdges" />
<polyline points="575.0,477.0 577.5,474.9 580.0,473.1" fill="none" stroke="#ff0000" stroke-width="1.05" shape-rendering="crispEdges" />
<polyline points="583.0,470.9 585.5,469.1 588.0,466.8" fill="none" stroke="#ff0000" stroke-width="1.05" shape-rendering="crispEdges" />
<polyline points="591.0,464.2 593.5,461.9 596.0,460.4" fill="none" stroke="#ff0000" stroke-width="1.05" shape-rendering="crispEdges" />
<polyline points="599.0,458.6 601.5,457.1 604.0,455.7" fill="none" stroke="#ff0000" stroke-width="1.05" shape-rendering="crispEdges" />
<polyline points="607.0,454.0 609.5,452.7 612.0,451.5" fill="none" stroke="#ff0000" stroke-width="1.05" shape-rendering="crispEdges" />
<polyline points="615.0,450.1 617.5,449.0 620.0,448.4" fill="none" stroke="#ff0000" stroke-width="1.05" shape-rendering="crispEdges" />
<polyline points="623.0,447.7 625.5,447.1 628.0,447.1" fill="none" stroke="#ff0000" stroke-width="1.05" shape-rendering="crispEdges" />
<polyline points="631.0,447.1 633.5,447.1 636.0,447.5" fill="none" stroke="#ff0000" stroke-width="1.05" shape-rendering="crispEdges" />
<polyline points="639.0,448.0 641.5,448.4 644.0,449.0" fill="none" stroke="#ff0000" stroke-width="1.05" shape-rendering="crispEdges" />
<polyline points="647.0,449.7 649.5,450.3 652.0,451.7" fill="none" stroke="#ff0000" stroke-width="1.05" shape-rendering="crispEdges" />
<polyline points="655.0,453.4 657.5,454.8 660.0,456.3" fill="none" stroke="#ff0000" stroke-width="1.05" shape-rendering="crispEdges" />
<polyline points="663.0,458.1 665.5,459.6 668.0,461.8" fill="none" stroke="#ff0000" stroke-width="1.05" shape-rendering="crispEdges" />
<polyline points="671.0,464.5 673.5,466.8 676.0,468.9" fill="none" stroke="#ff0000" stroke-width="1.05" shape-rendering="crispEdges" />
<polyline points="679.0,471.4 681.5,473.5 684.0,475.6" fill="none" stroke="#ff0000" stroke-width="1.05" shape-rendering="crispEdges" />
<polyline points="687.0,478.2 689.5,480.3 692.0,482.4" fill="none" stroke="#ff0000" stroke-width="1.05" shape-rendering="crispEdges" />
<polyline points="695.0,484.9 697.5,487.0 700.0,489.1" fill="none" stroke="#ff0000" stroke-width="1.05" shape-rendering="crispEdges" />
<polyline points="703.0,491.7 705.5,493.8 708.0,495.9" fill="none" stroke="#ff0000" stroke-width="1.05" shape-rendering="crispEdges" />
<polyline points="711.0,498.4 713.5,500.5 716.0,501.9" fill="none" stroke="#ff0000" stroke-width="1.05" shape-rendering="crispEdges" />
<polyline points="719.0,503.5 721.5,504.8 724.0,506.0" fill="none" stroke="#ff0000" stroke-width="1.05" shape-rendering="crispEdges" />
<polyline points="727.0,507.4 729.5,508.7 732.0,509.7" fill="none" stroke="#ff0000" stroke-width="1.05" shape-rendering="crispEdges" />
<polyline points="735.0,511.0 737.5,512.1 740.0,512.6" fill="none" stroke="#ff0000" stroke-width="1.05" shape-rendering="crispEdges" />
<polyline points="743.0,513.2 745.5,513.7 748.0,513.9" fill="none" stroke="#ff0000" stroke-width="1.05" shape-rendering="crispEdges" />
<polyline points="751.0,514.2 753.5,514.4 756.0,514.4" fill="none" stroke="#ff0000" stroke-width="1.05" shape-rendering="crispEdges" />
<polyline points="759.0,514.4 761.5,514.4 764.0,514.1" fill="none" stroke="#ff0000" stroke-width="1.05" shape-rendering="crispEdges" />
<polyline points="767.0,513.8 769.5,513.5 772.0,513.2" fill="none" stroke="#ff0000" stroke-width="1.05" shape-rendering="crispEdges" />
<polyline points="775.0,512.8 777.5,512.5 780.0,512.5" fill="none" stroke="#ff0000" stroke-width="1.05" shape-rendering="crispEdges" />
<polyline points="783.0,512.5 785.5,512.5 788.0,512.4" fill="none" stroke="#ff0000" stroke-width="1.05" shape-rendering="crispEdges" />
<polyline points="791.0,512.3 793.5,512.1 796.0,511.8" fill="none" stroke="#ff0000" stroke-width="1.05" shape-rendering="crispEdges" />
<polyline points="799.0,511.5 801.5,511.2 804.0,510.9" fill="none" stroke="#ff0000" stroke-width="1.05" shape-rendering="crispEdges" />
<polyline points="807.0,510.5 809.5,510.2 812.0,509.3" fill="none" stroke="#ff0000" stroke-width="1.05" shape-rendering="crispEdges" />
<polyline points="815.0,508.2 817.5,507.3 820.0,506.2" fill="none" stroke="#ff0000" stroke-width="1.05" shape-rendering="crispEdges" />
<polyline points="823.0,504.9 825.5,503.8 828.0,502.5" fill="none" stroke="#ff0000" stroke-width="1.05" shape-rendering="crispEdges" />
<polyline points="831.0,500.9 833.5,499.6 836.0,498.1" fill="none" stroke="#ff0000" stroke-width="1.05" shape-rendering="crispEdges" />
<polyline points="839.0,496.3 841.5,494.8 844.0,492.5" fill="none" stroke="#ff0000" stroke-width="1.05" shape-rendering="crispEdges" />
<polyline points="847.0,489.8 849.5,487.6 852.0,485.8" fill="none" stroke="#ff0000" stroke-width="1.05" shape-rendering="crispEdges" />
<polyline points="855.0,483.6 857.5,481.8 860.0,479.6" fill="none" stroke="#ff0000" stroke-width="1.05" shape-rendering="crispEdges" />
<polyline points="863.0,477.0 865.5,474.9 868.0,472.6" fill="none" stroke="#ff0000" stroke-width="1.05" shape-rendering="crispEdges" />
<polyline points="871.0,470.0 873.5,467.7 876.0,465.8" fill="none" stroke="#ff0000" stroke-width="1.05" shape-rendering="crispEdges" />
<polyline points="879.0,463.5 881.5,461.5 884.0,460.0" fill="none" stroke="#ff0000" stroke-width="1.05" shape-rendering="crispEdges" />
<polyline points="887.0,458.2 889.5,456.7 892.0,455.7" fill="none" stroke="#ff0000" stroke-width="1.05" shape-rendering="crispEdges" />
<polyline points="895.0,454.6 897.5,453.6 900.0,453.5" fill="none" stroke="#ff0000" stroke-width="1.05" shape-rendering="crispEdges" />
<polyline points="903.0,453.4 905.5,453.2 908.0,453.5" fill="none" stroke="#ff0000" stroke-width="1.05" shape-rendering="crispEdges" />
<polyline points="911.0,453.9 913.5,454.2 916.0,455.4" fill="none" stroke="#ff0000" stroke-width="1.05" shape-rendering="crispEdges" />
<polyline points="919.0,456.9 921.5,458.1 924.0,459.3" fill="none" stroke="#ff0000" stroke-width="1.05" shape-rendering="crispEdges" />
<polyline points="927.0,460.7 929.5,461.9 932.0,463.4" fill="none" stroke="#ff0000" stroke-width="1.05" shape-rendering="crispEdges" />
<polyline points="935.0,465.2 937.5,466.8 940.0,468.3" fill="none" stroke="#ff0000" stroke-width="1.05" shape-rendering="crispEdges" />
<polyline points="943.0,470.1 945.5,471.6 948.0,473.1" fill="none" stroke="#ff0000" stroke-width="1.05" shape-rendering="crispEdges" />
<polyline points="951.0,474.9 953.5,476.4 956.0,477.6" fill="none" stroke="#ff0000" stroke-width="1.05" shape-rendering="crispEdges" />
<polyline points="959.0,479.1 961.5,480.3 964.0,482.3" fill="none" stroke="#ff0000" stroke-width="1.05" shape-rendering="crispEdges" />
<polyline points="967.0,484.7 969.5,486.6 972.0,488.6" fill="none" stroke="#ff0000" stroke-width="1.05" shape-rendering="crispEdges" />
<polyline points="975.0,490.9 977.5,492.8 980.0,494.2" fill="none" stroke="#ff0000" stroke-width="1.05" shape-rendering="crispEdges" />
<polyline points="983.0,495.9 985.5,497.3 988.0,498.3" fill="none" stroke="#ff0000" stroke-width="1.05" shape-rendering="crispEdges" />
<polyline points="991.0,499.5 993.5,500.5 996.0,501.5" fill="none" stroke="#ff0000" stroke-width="1.05" shape-rendering="crispEdges" />
<polyline points="999.0,502.5 1001.5,503.4 1004.0,504.3" fill="none" stroke="#ff0000" stroke-width="1.05" shape-rendering="crispEdges" />
<polyline points="1007.0,505.4 1009.5,506.3 1012.0,507.4" fill="none" stroke="#ff0000" stroke-width="1.05" shape-rendering="crispEdges" />
<polyline points="1015.0,508.6 1017.5,509.6 1020.0,510.7" fill="none" stroke="#ff0000" stroke-width="1.05" shape-rendering="crispEdges" />
<polyline points="1023.0,512.0 1025.5,513.1 1028.0,514.3" fill="none" stroke="#ff0000" stroke-width="1.05" shape-rendering="crispEdges" />
<polyline points="1031.0,515.8 1033.5,517.0 1036.0,518.2" fill="none" stroke="#ff0000" stroke-width="1.05" shape-rendering="crispEdges" />
<polyline points="1039.0,519.6 1041.5,520.8 1044.0,522.0" fill="none" stroke="#ff0000" stroke-width="1.05" shape-rendering="crispEdges" />
<polyline points="1047.0,523.5 1049.5,524.7 1052.0,525.7" fill="none" stroke="#ff0000" stroke-width="1.05" shape-rendering="crispEdges" />
<polyline points="1055.0,526.9 1057.5,528.0 1060.0,528.7" fill="none" stroke="#ff0000" stroke-width="1.05" shape-rendering="crispEdges" />
<polyline points="1063.0,529.7 1065.5,530.5 1068.0,531.1" fill="none" stroke="#ff0000" stroke-width="1.05" shape-rendering="crispEdges" />
<polyline points="1071.0,531.8 1073.5,532.4 1076.0,532.4" fill="none" stroke="#ff0000" stroke-width="1.05" shape-rendering="crispEdges" />
<polyline points="1079.0,532.4 1081.5,532.4 1084.0,532.4" fill="none" stroke="#ff0000" stroke-width="1.05" shape-rendering="crispEdges" />
<polyline points="1087.0,532.4 1089.5,532.4 1092.0,532.4" fill="none" stroke="#ff0000" stroke-width="1.05" shape-rendering="crispEdges" />
<polyline points="1095.0,532.4 1097.5,532.4 1100.0,531.8" fill="none" stroke="#ff0000" stroke-width="1.05" shape-rendering="crispEdges" />
<polyline points="1103.0,531.1 1105.5,530.5 1108.0,529.4" fill="none" stroke="#ff0000" stroke-width="1.05" shape-rendering="crispEdges" />
<polyline points="1111.0,528.2 1113.5,527.2 1116.0,525.5" fill="none" stroke="#ff0000" stroke-width="1.05" shape-rendering="crispEdges" />
<polyline points="1119.0,523.5 1121.5,521.8 1124.0,519.4" fill="none" stroke="#ff0000" stroke-width="1.05" shape-rendering="crispEdges" />
<polyline points="1127.0,516.5 1129.5,514.1 1132.0,511.3" fill="none" stroke="#ff0000" stroke-width="1.05" shape-rendering="crispEdges" />
<polyline points="1135.0,508.1 1137.5,505.4 1140.0,502.8" fill="none" stroke="#ff0000" stroke-width="1.05" shape-rendering="crispEdges" />
<polyline points="1143.0,499.7 1145.5,497.1 1148.0,494.4" fill="none" stroke="#ff0000" stroke-width="1.05" shape-rendering="crispEdges" />
<polyline points="1151.0,491.2 1153.5,488.6 1156.0,486.1" fill="none" stroke="#ff0000" stroke-width="1.05" shape-rendering="crispEdges" />
<polyline points="1159.0,483.1 1161.5,480.7 1164.0,478.3" fill="none" stroke="#ff0000" stroke-width="1.05" shape-rendering="crispEdges" />
<polyline points="1167.0,475.5 1169.5,473.1 1172.0,471.1" fill="none" stroke="#ff0000" stroke-width="1.05" shape-rendering="crispEdges" />
<polyline points="1175.0,468.7 1177.5,466.8" fill="none" stroke="#ff0000" stroke-width="1.05" shape-rendering="crispEdges" />
</g>
<g clip-path="url(#cr)">
<line x1="10" y1="589.5" x2="1201" y2="589.5" stroke="#c0c0c0" stroke-width="1" stroke-dasharray="3 3"/>
<line x1="10" y1="636.5" x2="1201" y2="636.5" stroke="#c0c0c0" stroke-width="1" stroke-dasharray="3 3"/>
<polyline points="9.5,606.6 17.5,603.1 25.5,596.3 33.5,611.4 41.5,610.4 49.5,616.2 57.5,613.3 65.5,614.3 73.5,608.5 81.5,608.3 89.5,608.3 97.5,601.6 105.5,601.6 113.5,603.5 121.5,606.4 129.5,623.4 137.5,621.4 145.5,624.3 153.5,624.3 161.5,626.7 169.5,613.7 177.5,612.4 185.5,612.4 193.5,614.3 201.5,606.6 209.5,602.5 217.5,597.3 225.5,606.4 233.5,603.5 241.5,607.3 249.5,604.6 257.5,598.3 265.5,604.1 273.5,607.5 281.5,604.5 289.5,607.3 297.5,608.5 305.5,604.6 313.5,601.6 321.5,606.6 329.5,605.4 337.5,602.5 345.5,601.2 353.5,602.1 361.5,608.3 369.5,608.3 377.5,604.6 385.5,604.6 393.5,601.2 401.5,606.0 409.5,612.4 417.5,608.5 425.5,605.4 433.5,607.3 441.5,605.4 449.5,607.3 457.5,599.2 465.5,614.3 473.5,607.3 481.5,611.4 489.5,611.4 497.5,613.1 505.5,617.2 513.5,604.1 521.5,597.3 529.5,596.0 537.5,592.9 545.5,588.2 553.5,586.3 561.5,583.2 569.5,587.1 577.5,591.1 585.5,590.2 593.5,587.3 601.5,590.2 609.5,594.4 617.5,593.4 625.5,598.3 633.5,596.3 641.5,602.5 649.5,608.9 657.5,621.4 665.5,624.3 673.5,616.2 681.5,614.1 689.5,615.3 697.5,617.2 705.5,621.1 713.5,616.6 721.5,608.3 729.5,608.3 737.5,611.4 745.5,609.5 753.5,605.4 761.5,598.3 769.5,613.1 777.5,614.3 785.5,617.6 793.5,614.3 801.5,605.0 809.5,601.2 817.5,590.5 825.5,589.2 833.5,588.2 841.5,587.1 849.5,586.1 857.5,605.0 865.5,601.2 873.5,594.4 881.5,594.4 889.5,594.4 897.5,603.1 905.5,612.2 913.5,617.2 921.5,615.3 929.5,613.3 937.5,616.6 945.5,606.6 953.5,605.4 961.5,599.6 969.5,622.4 977.5,621.4 985.5,612.4 993.5,611.2 1001.5,613.1 1009.5,616.2 1017.5,616.2 1025.5,616.2 1033.5,619.1 1041.5,621.1 1049.5,626.3 1057.5,617.6 1065.5,608.9 1073.5,607.0 1081.5,603.1 1089.5,612.2 1097.5,614.3 1105.5,608.5 1113.5,603.7 1121.5,597.9 1129.5,594.4 1137.5,598.3 1145.5,591.5 1153.5,600.2 1161.5,604.5 1169.5,605.6 1177.5,604.5" fill="none" stroke="#1e90ff" stroke-width="1.1" shape-rendering="crispEdges" />
</g>
<rect x="8" y="5" width="1" height="667" fill="#000"/>
<rect x="1201" y="5" width="1" height="667" fill="#000"/>
<rect x="8" y="5" width="1194" height="1" fill="#000"/>
<rect x="8" y="434" width="1194" height="1" fill="#000"/>
<rect x="8" y="436" width="1194" height="1" fill="#000"/>
<rect x="8" y="551" width="1194" height="1" fill="#000"/>
<rect x="8" y="553" width="1194" height="1" fill="#000"/>
<rect x="8" y="671" width="1194" height="1" fill="#000"/>
<rect x="1201" y="103" width="1" height="1" fill="#c0c0c0"/>
<rect x="8" y="9" width="1194" height="2" fill="#ff0000"/>
<rect x="8" y="119" width="1194" height="2" fill="#00cd00"/>
<rect x="8" y="202" width="1194" height="2" fill="#4459e5"/>
<rect x="8" y="271" width="1194" height="2" fill="#4459e5"/>
<rect x="8" y="340" width="1194" height="2" fill="#4459e5"/>
<g shape-rendering="auto" text-rendering="geometricPrecision">
<path d="M12.2 11.8 L19.2 11.8 L15.7 15.8 Z" fill="#000"/>
<text x="24" y="17" font-size="9.4" fill="#000" stroke="#000" stroke-width="0.18" text-anchor="start" textLength="169" lengthAdjust="spacingAndGlyphs" style="white-space:pre" >UKOil-,H4  96.370 96.680 96.230 96.630</text>
<rect x="9" y="9" width="200" height="2" fill="#ff0000" shape-rendering="crispEdges"/>
<text x="12.6" y="449" font-size="9.4" fill="#000" stroke="#000" stroke-width="0.18" text-anchor="start" style="white-space:pre" >MACD(12,26,9) 0.9960 0.7865</text>
<text x="12.6" y="566" font-size="9.4" fill="#000" stroke="#000" stroke-width="0.18" text-anchor="start" textLength="67.3" lengthAdjust="spacingAndGlyphs" style="white-space:pre" >RSI(14) 57.1683</text>
<text x="197.6" y="175.3" font-size="35" fill="#ff0a0a" font-weight="400">多空转折点</text>
<text x="371.6" y="174.6" font-size="35.5" fill="#ff0a0a" font-weight="400" textLength="42.5" lengthAdjust="spacingAndGlyphs">96</text>
<rect x="1202" y="35" width="2" height="1" fill="#000" shape-rendering="crispEdges"/>
<rect x="1202" y="68" width="2" height="1" fill="#000" shape-rendering="crispEdges"/>
<rect x="1202" y="101" width="2" height="1" fill="#000" shape-rendering="crispEdges"/>
<rect x="1202" y="134" width="2" height="1" fill="#000" shape-rendering="crispEdges"/>
<rect x="1202" y="167" width="2" height="1" fill="#000" shape-rendering="crispEdges"/>
<rect x="1202" y="200" width="2" height="1" fill="#000" shape-rendering="crispEdges"/>
<rect x="1202" y="233" width="2" height="1" fill="#000" shape-rendering="crispEdges"/>
<rect x="1202" y="266" width="2" height="1" fill="#000" shape-rendering="crispEdges"/>
<rect x="1202" y="299" width="2" height="1" fill="#000" shape-rendering="crispEdges"/>
<rect x="1202" y="332" width="2" height="1" fill="#000" shape-rendering="crispEdges"/>
<rect x="1202" y="365" width="2" height="1" fill="#000" shape-rendering="crispEdges"/>
<rect x="1202" y="398" width="2" height="1" fill="#000" shape-rendering="crispEdges"/>
<rect x="1202" y="431" width="2" height="1" fill="#000" shape-rendering="crispEdges"/>
<text x="1207" y="39.0" font-size="9.4" fill="#000" stroke="#000" stroke-width="0.18" text-anchor="start" textLength="27" lengthAdjust="spacingAndGlyphs" style="white-space:pre" >99.080</text>
<text x="1207" y="72.0" font-size="9.4" fill="#000" stroke="#000" stroke-width="0.18" text-anchor="start" textLength="27" lengthAdjust="spacingAndGlyphs" style="white-space:pre" >97.890</text>
<text x="1207" y="138.0" font-size="9.4" fill="#000" stroke="#000" stroke-width="0.18" text-anchor="start" textLength="27" lengthAdjust="spacingAndGlyphs" style="white-space:pre" >95.510</text>
<text x="1207" y="171.0" font-size="9.4" fill="#000" stroke="#000" stroke-width="0.18" text-anchor="start" textLength="27" lengthAdjust="spacingAndGlyphs" style="white-space:pre" >94.320</text>
<text x="1207" y="237.0" font-size="9.4" fill="#000" stroke="#000" stroke-width="0.18" text-anchor="start" textLength="27" lengthAdjust="spacingAndGlyphs" style="white-space:pre" >91.905</text>
<text x="1207" y="270.0" font-size="9.4" fill="#000" stroke="#000" stroke-width="0.18" text-anchor="start" textLength="27" lengthAdjust="spacingAndGlyphs" style="white-space:pre" >90.715</text>
<text x="1207" y="303.0" font-size="9.4" fill="#000" stroke="#000" stroke-width="0.18" text-anchor="start" textLength="27" lengthAdjust="spacingAndGlyphs" style="white-space:pre" >89.525</text>
<text x="1207" y="336.0" font-size="9.4" fill="#000" stroke="#000" stroke-width="0.18" text-anchor="start" textLength="27" lengthAdjust="spacingAndGlyphs" style="white-space:pre" >88.335</text>
<text x="1207" y="369.0" font-size="9.4" fill="#000" stroke="#000" stroke-width="0.18" text-anchor="start" textLength="27" lengthAdjust="spacingAndGlyphs" style="white-space:pre" >87.145</text>
<text x="1207" y="402.0" font-size="9.4" fill="#000" stroke="#000" stroke-width="0.18" text-anchor="start" textLength="27" lengthAdjust="spacingAndGlyphs" style="white-space:pre" >85.955</text>
<text x="1207" y="435.0" font-size="9.4" fill="#000" stroke="#000" stroke-width="0.18" text-anchor="start" textLength="27" lengthAdjust="spacingAndGlyphs" style="white-space:pre" >84.765</text>
<rect x="1202" y="437" width="2" height="1" fill="#000" shape-rendering="crispEdges"/>
<rect x="1202" y="520" width="2" height="1" fill="#000" shape-rendering="crispEdges"/>
<rect x="1202" y="550" width="2" height="1" fill="#000" shape-rendering="crispEdges"/>
<rect x="1202" y="554" width="2" height="1" fill="#000" shape-rendering="crispEdges"/>
<rect x="1202" y="589" width="2" height="1" fill="#000" shape-rendering="crispEdges"/>
<rect x="1202" y="636" width="2" height="1" fill="#000" shape-rendering="crispEdges"/>
<rect x="1202" y="670" width="2" height="1" fill="#000" shape-rendering="crispEdges"/>
<text x="1204.6" y="447.4" font-size="9.4" fill="#000" stroke="#000" stroke-width="0.18" text-anchor="start" style="white-space:pre" >1.2029</text>
<text x="1204.6" y="523.4" font-size="9.4" fill="#000" stroke="#000" stroke-width="0.18" text-anchor="start" style="white-space:pre" >0.00</text>
<text x="1204.6" y="548.0" font-size="9.4" fill="#000" stroke="#000" stroke-width="0.18" text-anchor="start" style="white-space:pre" >-0.4732</text>
<text x="1205.2" y="564.0" font-size="9.4" fill="#000" stroke="#000" stroke-width="0.18" text-anchor="start" style="white-space:pre" >100</text>
<text x="1203.8" y="593.1" font-size="9.4" fill="#000" stroke="#000" stroke-width="0.18" text-anchor="start" style="white-space:pre" >70</text>
<text x="1203.8" y="639.4" font-size="9.4" fill="#000" stroke="#000" stroke-width="0.18" text-anchor="start" style="white-space:pre" >30</text>
<text x="1205.2" y="667.6999999999999" font-size="9.4" fill="#000" stroke="#000" stroke-width="0.18" text-anchor="start" style="white-space:pre" >0</text>
<rect x="1204" y="4" width="38" height="11" fill="#ff0000" shape-rendering="crispEdges"/>
<text x="1207.6" y="13.0" font-size="9.4" fill="#fff" stroke="#fff" stroke-width="0.18" text-anchor="start" textLength="31.6" lengthAdjust="spacingAndGlyphs" style="white-space:pre" >100.000</text>
<rect x="1204" y="98" width="34" height="11" fill="#000000" shape-rendering="crispEdges"/>
<text x="1207" y="107.0" font-size="9.4" fill="#fff" stroke="#fff" stroke-width="0.18" text-anchor="start" textLength="27.3" lengthAdjust="spacingAndGlyphs" style="white-space:pre" >96.630</text>
<rect x="1204" y="114" width="34" height="11" fill="#00cd00" shape-rendering="crispEdges"/>
<text x="1207" y="123.0" font-size="9.4" fill="#fff" stroke="#fff" stroke-width="0.18" text-anchor="start" textLength="27.5" lengthAdjust="spacingAndGlyphs" style="white-space:pre" >96.000</text>
<rect x="1204" y="197" width="34" height="11" fill="#4459e5" shape-rendering="crispEdges"/>
<text x="1207" y="206.0" font-size="9.4" fill="#fff" stroke="#fff" stroke-width="0.18" text-anchor="start" textLength="27.5" lengthAdjust="spacingAndGlyphs" style="white-space:pre" >93.000</text>
<rect x="1204" y="266" width="34" height="11" fill="#4459e5" shape-rendering="crispEdges"/>
<text x="1207" y="275.0" font-size="9.4" fill="#fff" stroke="#fff" stroke-width="0.18" text-anchor="start" textLength="27.5" lengthAdjust="spacingAndGlyphs" style="white-space:pre" >90.500</text>
<rect x="1204" y="335" width="34" height="11" fill="#4459e5" shape-rendering="crispEdges"/>
<text x="1207" y="344.0" font-size="9.4" fill="#fff" stroke="#fff" stroke-width="0.18" text-anchor="start" textLength="27.5" lengthAdjust="spacingAndGlyphs" style="white-space:pre" >88.000</text>
<rect x="9" y="672" width="1" height="3" fill="#000" shape-rendering="crispEdges"/>
<text x="7.7" y="684" font-size="9.1" fill="#000" stroke="#000" stroke-width="0.18" text-anchor="start" style="white-space:pre" >20 Jan 2022</text>
<rect x="73" y="672" width="1" height="3" fill="#000" shape-rendering="crispEdges"/>
<text x="71.7" y="684" font-size="9.1" fill="#000" stroke="#000" stroke-width="0.18" text-anchor="start" style="white-space:pre" >21 Jan 13:00</text>
<rect x="137" y="672" width="1" height="3" fill="#000" shape-rendering="crispEdges"/>
<text x="135.7" y="684" font-size="9.1" fill="#000" stroke="#000" stroke-width="0.18" text-anchor="start" style="white-space:pre" >24 Jan 16:00</text>
<rect x="201" y="672" width="1" height="3" fill="#000" shape-rendering="crispEdges"/>
<text x="199.7" y="684" font-size="9.1" fill="#000" stroke="#000" stroke-width="0.18" text-anchor="start" style="white-space:pre" >26 Jan 05:00</text>
<rect x="265" y="672" width="1" height="3" fill="#000" shape-rendering="crispEdges"/>
<text x="263.7" y="684" font-size="9.1" fill="#000" stroke="#000" stroke-width="0.18" text-anchor="start" style="white-space:pre" >27 Jan 13:00</text>
<rect x="329" y="672" width="1" height="3" fill="#000" shape-rendering="crispEdges"/>
<text x="327.7" y="684" font-size="9.1" fill="#000" stroke="#000" stroke-width="0.18" text-anchor="start" style="white-space:pre" >28 Jan 21:00</text>
<rect x="393" y="672" width="1" height="3" fill="#000" shape-rendering="crispEdges"/>
<text x="391.7" y="684" font-size="9.1" fill="#000" stroke="#000" stroke-width="0.18" text-anchor="start" style="white-space:pre" >1 Feb 01:00</text>
<rect x="457" y="672" width="1" height="3" fill="#000" shape-rendering="crispEdges"/>
<text x="455.7" y="684" font-size="9.1" fill="#000" stroke="#000" stroke-width="0.18" text-anchor="start" style="white-space:pre" >2 Feb 09:00</text>
<rect x="521" y="672" width="1" height="3" fill="#000" shape-rendering="crispEdges"/>
<text x="519.7" y="684" font-size="9.1" fill="#000" stroke="#000" stroke-width="0.18" text-anchor="start" style="white-space:pre" >3 Feb 17:00</text>
<rect x="585" y="672" width="1" height="3" fill="#000" shape-rendering="crispEdges"/>
<text x="583.7" y="684" font-size="9.1" fill="#000" stroke="#000" stroke-width="0.18" text-anchor="start" style="white-space:pre" >6 Feb 23:00</text>
<rect x="649" y="672" width="1" height="3" fill="#000" shape-rendering="crispEdges"/>
<text x="647.7" y="684" font-size="9.1" fill="#000" stroke="#000" stroke-width="0.18" text-anchor="start" style="white-space:pre" >8 Feb 05:00</text>
<rect x="713" y="672" width="1" height="3" fill="#000" shape-rendering="crispEdges"/>
<text x="711.7" y="684" font-size="9.1" fill="#000" stroke="#000" stroke-width="0.18" text-anchor="start" style="white-space:pre" >9 Feb 13:00</text>
<rect x="777" y="672" width="1" height="3" fill="#000" shape-rendering="crispEdges"/>
<text x="775.7" y="684" font-size="9.1" fill="#000" stroke="#000" stroke-width="0.18" text-anchor="start" style="white-space:pre" >10 Feb 21:00</text>
<rect x="841" y="672" width="1" height="3" fill="#000" shape-rendering="crispEdges"/>
<text x="839.7" y="684" font-size="9.1" fill="#000" stroke="#000" stroke-width="0.18" text-anchor="start" style="white-space:pre" >14 Feb 00:00</text>
<rect x="905" y="672" width="1" height="3" fill="#000" shape-rendering="crispEdges"/>
<text x="903.7" y="684" font-size="9.1" fill="#000" stroke="#000" stroke-width="0.18" text-anchor="start" style="white-space:pre" >15 Feb 09:00</text>
<rect x="969" y="672" width="1" height="3" fill="#000" shape-rendering="crispEdges"/>
<text x="967.7" y="684" font-size="9.1" fill="#000" stroke="#000" stroke-width="0.18" text-anchor="start" style="white-space:pre" >16 Feb 17:00</text>
<rect x="1033" y="672" width="1" height="3" fill="#000" shape-rendering="crispEdges"/>
<text x="1031.7" y="684" font-size="9.1" fill="#000" stroke="#000" stroke-width="0.18" text-anchor="start" style="white-space:pre" >18 Feb 01:00</text>
<rect x="1097" y="672" width="1" height="3" fill="#000" shape-rendering="crispEdges"/>
<text x="1095.7" y="684" font-size="9.1" fill="#000" stroke="#000" stroke-width="0.18" text-anchor="start" style="white-space:pre" >21 Feb 04:00</text>
<rect x="1161" y="672" width="1" height="3" fill="#000" shape-rendering="crispEdges"/>
<text x="1159.7" y="684" font-size="9.1" fill="#000" stroke="#000" stroke-width="0.18" text-anchor="start" style="white-space:pre" >22 Feb 13:00</text>
</g>
</svg>
</body></html>
